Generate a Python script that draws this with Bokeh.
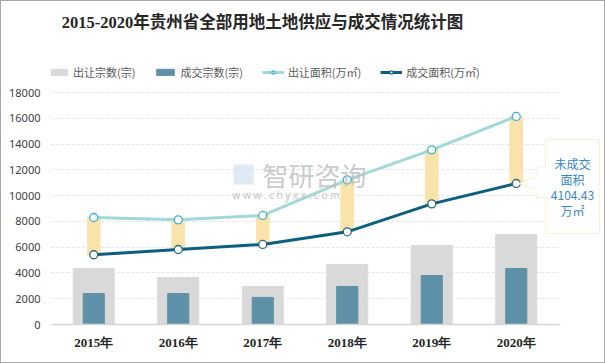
from bokeh.plotting import figure
from bokeh.models import (Range1d, FixedTicker, Legend, LegendItem,
                          Label, PolyAnnotation, BoxAnnotation)
from bokeh.embed import file_html
from bokeh.resources import INLINE

# ---------------- data ----------------
years = ["2015年", "2016年", "2017年", "2018年", "2019年", "2020年"]
supply_count = [4340, 3650, 2950, 4660, 6130, 6980]      # 出让宗数(宗)
deal_count = [2400, 2400, 2100, 2950, 3800, 4340]        # 成交宗数(宗)
supply_area = [8300, 8120, 8460, 11220, 13550, 16140]    # 出让面积(万㎡)
deal_area = [5410, 5820, 6210, 7190, 9360, 10940]        # 成交面积(万㎡)
y_ticks = [0, 2000, 4000, 6000, 8000, 10000, 12000, 14000, 16000, 18000]
title_text = "2015-2020年贵州省全部用地土地供应与成交情况统计图"
names = ["出让宗数(宗)", "成交宗数(宗)", "出让面积(万㎡)", "成交面积(万㎡)"]
callout_lines = ["未成交", "面积", "4104.43", "万㎡"]

CJK = "Noto Sans CJK SC"
xs = list(range(len(years)))

# ---------------- layout helpers (reference pixel -> plot coords) ----------------
FRAME_L, FRAME_R, FRAME_T, FRAME_B = 51, 558, 92, 324
BAND = (FRAME_R - FRAME_L) / len(years)
YMAX = 18000
OFF = 1            # 1px page border
PAGE_W, PAGE_H = 605, 363
RIGHT_EDGE = PAGE_W - OFF


def fx(px):
    return (px - FRAME_L) / BAND - 0.5


def fy(py):
    return (FRAME_B - py) * YMAX / (FRAME_B - FRAME_T)


p = figure(frame_width=RIGHT_EDGE - FRAME_L, frame_height=FRAME_B - OFF,
           output_backend="svg", toolbar_location=None,
           x_range=Range1d(fx(FRAME_L), fx(RIGHT_EDGE)),
           y_range=Range1d(0, fy(OFF)),
           min_border_left=FRAME_L - OFF, min_border_right=0,
           min_border_top=0,
           min_border_bottom=(PAGE_H - OFF) - FRAME_B)
p.styles = {"border": "1px solid #a8a8a8"}
p.outline_line_color = None
p.background_fill_color = "white"
p.border_fill_color = "white"

# axes
p.yaxis.ticker = FixedTicker(ticks=y_ticks)
p.yaxis.axis_line_color = None
p.yaxis.major_tick_line_color = None
p.yaxis.minor_tick_line_color = None
p.yaxis.major_tick_out = 0
p.yaxis.major_label_text_font = "Noto Sans"
p.yaxis.major_label_text_font_size = "11px"
p.yaxis.major_label_text_color = "#404040"
p.yaxis.major_label_standoff = 11

p.xaxis.ticker = FixedTicker(ticks=xs)
p.xaxis.major_label_overrides = {i: y for i, y in zip(xs, years)}
p.xaxis.bounds = (fx(FRAME_L), fx(560))
p.xaxis.axis_line_color = "#d6d6d6"
p.xaxis.axis_line_width = 1.5
p.xaxis.major_tick_line_color = None
p.xaxis.minor_tick_line_color = None
p.xaxis.major_tick_out = 0
p.xaxis.major_label_text_font = "Liberation Serif"
p.xaxis.major_label_text_font_style = "bold"
p.xaxis.major_label_text_font_size = "13px"
p.xaxis.major_label_text_color = "#262626"
p.xaxis.major_label_standoff = 10

p.xgrid.grid_line_color = None
p.ygrid.grid_line_color = "#e4e4e4"
p.ygrid.grid_line_dash = "3 2"

# bars
r_sc = p.vbar(x=xs, top=supply_count, width=0.485, color="#d9d9d9")
r_dc = p.vbar(x=xs, top=deal_count, width=0.25, color="#5e91a8")
# gap (未成交) bars
p.vbar(x=xs, bottom=deal_area, top=supply_area, width=0.15, color="#f9e3aa")

# lines
r_sa_l = p.line(x=xs, y=supply_area, line_color="#a2d8d5", line_width=3)
r_da_l = p.line(x=xs, y=deal_area, line_color="#0d5f80", line_width=3)
r_sa_m = p.scatter(x=xs, y=supply_area, size=8, fill_color="white",
                   line_color="#3cb0df", line_width=1.3)
r_da_m = p.scatter(x=xs, y=deal_area, size=8, fill_color="white",
                   line_color="#2a6a80", line_width=1.3)

# white mask so grid lines stop at the plot area's right edge
p.add_layout(BoxAnnotation(left=fx(FRAME_R), right=fx(RIGHT_EDGE + 5),
                           bottom=fy(FRAME_B - 1), top=fy(0),
                           fill_color="white", fill_alpha=1, line_color=None))

# watermark
p.add_layout(BoxAnnotation(left=fx(233), right=fx(253), bottom=fy(184),
                           top=fy(164), fill_color="#c9dcee", fill_alpha=0.6,
                           line_color=None))
p.add_layout(Label(x=fx(262), y=fy(174), text="智研咨询", text_font=CJK,
                   text_font_size="26px", text_color="#bdbdbd", text_alpha=0.8,
                   text_baseline="middle"))
p.add_layout(Label(x=fx(232), y=fy(194), text="w w w . c h y x x . c o m",
                   text_font="Noto Sans", text_font_size="10px",
                   text_color="#c4c4c4", text_baseline="middle"))

# callout box
px = [545, 599, 599, 545, 545, 537, 537, 517, 537, 537, 545]
py = [139, 139, 233, 233, 197, 197, 190, 183, 176, 167, 167]
p.add_layout(PolyAnnotation(xs=[fx(v) for v in px], ys=[fy(v) for v in py],
                            fill_color="white", fill_alpha=1,
                            line_color="#f5d37c", line_width=1.2))
for i, t in enumerate(callout_lines):
    p.add_layout(Label(x=fx(572), y=fy(163 + i * 15.8), text=t, text_font=CJK,
                       text_font_size="12px", text_color="#3a88c4",
                       text_align="center", text_baseline="middle"))

# title
p.add_layout(Label(x=fx(262), y=fy(22), text=title_text,
                   text_font="Liberation Serif, Noto Sans CJK SC",
                   text_font_style="bold", text_font_size="16.5px",
                   text_color="#262626", text_align="center",
                   text_baseline="middle"))

# legend
legend = Legend(items=[
    LegendItem(label=names[0], renderers=[r_sc]),
    LegendItem(label=names[1], renderers=[r_dc]),
    LegendItem(label=names[2], renderers=[r_sa_l, r_sa_m]),
    LegendItem(label=names[3], renderers=[r_da_l, r_da_m]),
], orientation="horizontal", location=(-4, 244))
legend.glyph_width = 22
legend.glyph_height = 8
legend.label_standoff = 4
legend.spacing = 19
legend.padding = 0
legend.margin = 0
legend.border_line_color = None
legend.background_fill_alpha = 0
legend.label_text_font = CJK
legend.label_text_font_size = "11px"
legend.label_text_color = "#595959"
p.add_layout(legend, "center")

open("out.html", "w").write(file_html(p, INLINE))
